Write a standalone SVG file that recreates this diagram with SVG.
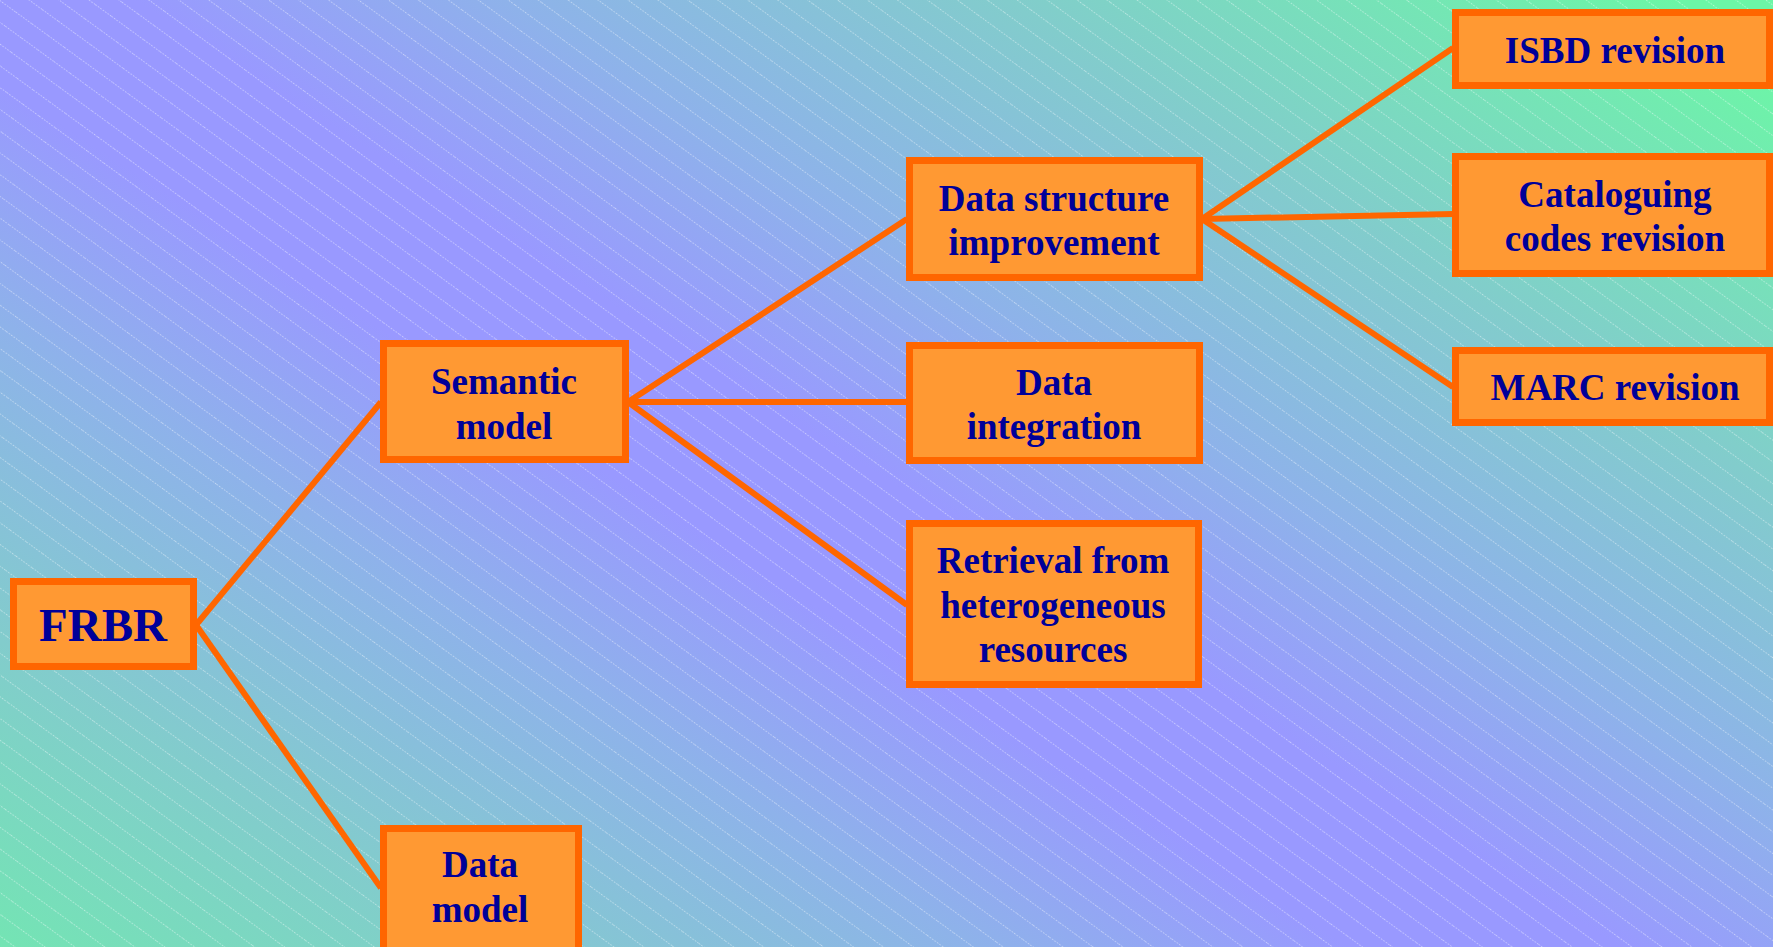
<svg xmlns="http://www.w3.org/2000/svg" width="1773" height="947" viewBox="0 0 1773 947">
<defs>
<linearGradient id="bg" gradientUnits="userSpaceOnUse" x1="-484" y1="759" x2="484" y2="-759">
<stop offset="0" stop-color="#6EEEAA"/>
<stop offset="0.2" stop-color="#82CCCC"/>
<stop offset="0.35" stop-color="#8EB2EA"/>
<stop offset="0.46" stop-color="#9999FF"/>
<stop offset="0.54" stop-color="#9999FF"/>
<stop offset="0.65" stop-color="#8EB2EA"/>
<stop offset="0.8" stop-color="#82CCCC"/>
<stop offset="1" stop-color="#6CF6A6"/>
</linearGradient>
<pattern id="hatch" patternUnits="userSpaceOnUse" width="20" height="17.6" patternTransform="rotate(36)">
<line x1="0" y1="0.5" x2="20" y2="0.5" stroke="#FFFFFF" stroke-opacity="0.45" stroke-width="1" stroke-dasharray="1.5 1.5"/>
</pattern>
<style>
.box{fill:#FF9933;stroke:#FF6600;stroke-width:7}
.lbl{font-family:"Liberation Serif","Times New Roman",serif;font-weight:bold;font-size:37px;fill:#000099;text-anchor:middle}
.big{font-size:47px}
.conn line{stroke:#FF6600;stroke-width:6;stroke-linecap:butt}
</style>
</defs>
<rect x="0" y="0" width="1773" height="947" fill="url(#bg)"/>
<rect x="0" y="0" width="1773" height="947" fill="url(#hatch)"/>
<g id="connectors" class="conn">
<line x1="196" y1="625" x2="381" y2="402"/>
<line x1="196" y1="625" x2="381" y2="888"/>
<line x1="628" y1="402" x2="907" y2="219"/>
<line x1="628" y1="402" x2="907" y2="402"/>
<line x1="628" y1="402" x2="907" y2="605"/>
<line x1="1202" y1="219" x2="1453" y2="48"/>
<line x1="1202" y1="219" x2="1453" y2="214"/>
<line x1="1202" y1="219" x2="1453" y2="387"/>
</g>
<g id="frbr">
<rect class="box" x="13.5" y="581.5" width="180" height="85"/>
<text class="lbl big" x="103" y="641">FRBR</text>
</g>
<g id="semantic-model">
<rect class="box" x="383.5" y="343.5" width="242" height="116"/>
<text class="lbl" x="504" y="394">Semantic</text>
<text class="lbl" x="504" y="439">model</text>
</g>
<g id="data-model">
<rect class="box" x="383.5" y="828.5" width="195" height="124"/>
<text class="lbl" x="480" y="877">Data</text>
<text class="lbl" x="480" y="922">model</text>
</g>
<g id="data-structure">
<rect class="box" x="909.5" y="160.5" width="290" height="117"/>
<text class="lbl" x="1054" y="211">Data structure</text>
<text class="lbl" x="1054" y="255">improvement</text>
</g>
<g id="data-integration">
<rect class="box" x="909.5" y="345.5" width="290" height="115"/>
<text class="lbl" x="1054" y="395">Data</text>
<text class="lbl" x="1054" y="439">integration</text>
</g>
<g id="retrieval">
<rect class="box" x="909.5" y="523.5" width="289" height="161"/>
<text class="lbl" x="1053" y="573">Retrieval from</text>
<text class="lbl" x="1053" y="618">heterogeneous</text>
<text class="lbl" x="1053" y="662">resources</text>
</g>
<g id="isbd">
<rect class="box" x="1455.5" y="12.5" width="314" height="73"/>
<text class="lbl" x="1615" y="63">ISBD revision</text>
</g>
<g id="cataloguing">
<rect class="box" x="1455.5" y="156.5" width="314" height="117"/>
<text class="lbl" x="1615" y="207">Cataloguing</text>
<text class="lbl" x="1615" y="251">codes revision</text>
</g>
<g id="marc">
<rect class="box" x="1455.5" y="350.5" width="314" height="72"/>
<text class="lbl" x="1615" y="400">MARC revision</text>
</g>
</svg>
